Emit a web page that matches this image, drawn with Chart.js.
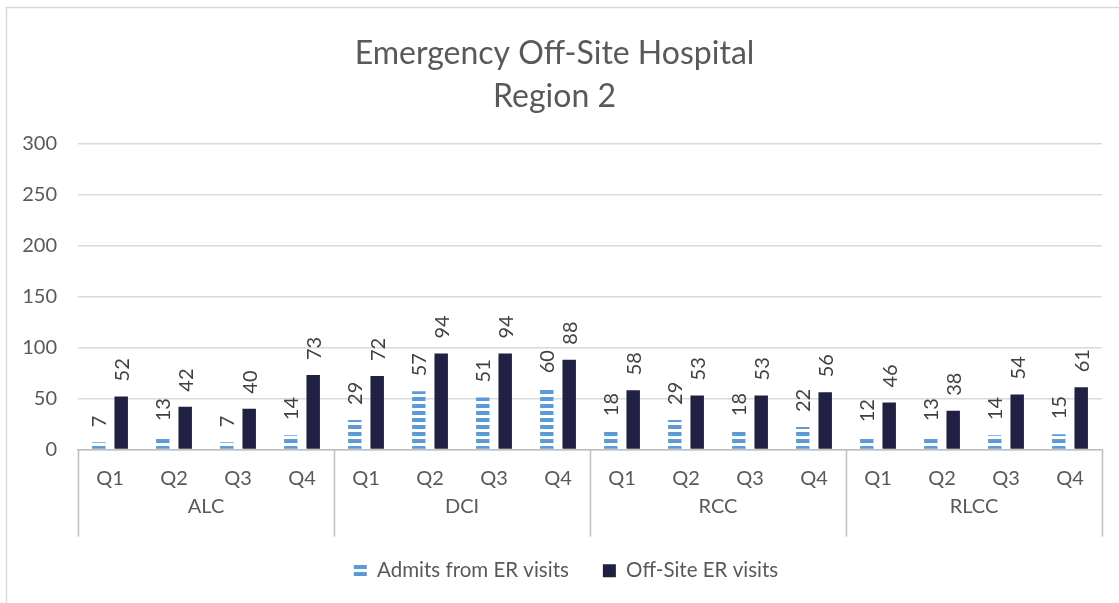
<!DOCTYPE html>
<html lang="en">
  <head>
    <meta charset="UTF-8" />
    <title>Emergency Off-Site Hospital Region 2</title>
    <script src="https://cdn.jsdelivr.net/npm/chart.js"></script>
    <style>
      html, body { margin: 0; padding: 0; background: #fff; }
      #wrap { width: 1119px; height: 603px; position: relative; }
    </style>
  </head>
  <body>
    <div id="wrap"><canvas id="chart" width="1119" height="603"></canvas></div>

    <script>
      // data
      const groups = ["ALC", "DCI", "RCC", "RLCC"];
      const quarters = ["Q1", "Q2", "Q3", "Q4"];
      const admits = [7, 13, 7, 14, 29, 57, 51, 60, 18, 29, 18, 22, 12, 13, 14, 15];
      const offsite = [52, 42, 40, 73, 72, 94, 94, 88, 58, 53, 53, 56, 46, 38, 54, 61];
      const yTicks = [0, 50, 100, 150, 200, 250, 300];

      const labels = [];
      groups.forEach(() => quarters.forEach(q => labels.push(q)));

      const grey = "#595959";
      const fontFam = "Lato, 'Open Sans', sans-serif";

      // horizontal stripe fill for the admits series
      function stripes() {
        const c = document.createElement("canvas");
        c.width = 8; c.height = 7;
        const g = c.getContext("2d");
        g.fillStyle = "#5B9BD5";
        g.fillRect(0, 0, 8, 2);
        g.fillRect(0, 5, 8, 2);
        return g.createPattern(c, "repeat");
      }

      // frame round the whole chart
      const frame = {
        id: "frame",
        beforeDraw(chart) {
          const ctx = chart.ctx;
          ctx.save();
          ctx.strokeStyle = "#d9d9d9";
          ctx.lineWidth = 1.5;
          ctx.strokeRect(6.5, 7.5, 1300, 800);
          ctx.restore();
        },
      };

      // legend sits a little right of centre in the original
      const legendShift = {
        id: "legendShift",
        afterLayout(chart) {
          chart.legend.left += 23;
        },
      };

      // rotated value labels above bars
      const valueLabels = {
        id: "valueLabels",
        afterDatasetsDraw(chart) {
          const ctx = chart.ctx;
          ctx.save();
          ctx.fillStyle = "#404040";
          ctx.font = "20px " + fontFam;
          ctx.textAlign = "left";
          ctx.textBaseline = "middle";
          chart.data.datasets.forEach((ds, i) => {
            chart.getDatasetMeta(i).data.forEach((el, j) => {
              ctx.save();
              ctx.translate(el.x, el.y - 15);
              ctx.rotate(-Math.PI / 2);
              ctx.fillText(String(ds.data[j]), 0, 1);
              ctx.restore();
            });
          });
          ctx.restore();
        },
      };

      // group names and separators under the quarter labels
      const groupAxis = {
        id: "groupAxis",
        afterDraw(chart) {
          const ctx = chart.ctx;
          const x = chart.scales.x;
          const top = x.top;
          const step = x.width / labels.length;
          ctx.save();
          ctx.strokeStyle = "#bfbfbf";
          ctx.lineWidth = 1.5;
          for (let g = 0; g <= groups.length; g++) {
            const px = Math.round(x.left + g * quarters.length * step) + 0.5;
            ctx.beginPath();
            ctx.moveTo(px, top);
            ctx.lineTo(px, top + 87);
            ctx.stroke();
          }
          ctx.fillStyle = grey;
          ctx.font = "20px " + fontFam;
          ctx.textAlign = "center";
          ctx.textBaseline = "middle";
          groups.forEach((name, g) => {
            const mid = (x.getPixelForValue(g * 4 + 1) + x.getPixelForValue(g * 4 + 2)) / 2;
            ctx.fillText(name, mid, top + 57);
          });
          ctx.restore();
        },
      };

      new Chart(document.getElementById("chart"), {
        type: "bar",
        data: {
          labels: labels,
          datasets: [
            {
              label: "Admits from ER visits",
              data: admits,
              backgroundColor: stripes(),
              borderWidth: 0,
              categoryPercentage: 0.7,
              barPercentage: 0.6,
            },
            {
              label: "Off-Site ER visits",
              data: offsite,
              backgroundColor: "#1f2042",
              borderWidth: 0,
              categoryPercentage: 0.7,
              barPercentage: 0.6,
            },
          ],
        },
        options: {
          responsive: false,
          animation: false,
          layout: { padding: { left: 7, right: 17, top: 7, bottom: 12 } },
          plugins: {
            title: {
              display: true,
              text: ["Emergency Off-Site Hospital", "Region 2"],
              color: grey,
              font: { family: fontFam, size: 32, weight: "normal", lineHeight: 1.35 },
              padding: { top: 25, bottom: 25 },
            },
            legend: {
              position: "bottom",
              labels: {
                color: grey,
                font: { family: fontFam, size: 20.5 },
                boxWidth: 13,
                boxHeight: 13,
                padding: 34,
              },
            },
            tooltip: { enabled: false },
          },
          scales: {
            x: {
              grid: { display: false, drawTicks: false },
              border: { display: true, color: "#bfbfbf", width: 1.5 },
              ticks: { color: grey, font: { family: fontFam, size: 20 }, padding: 17, maxRotation: 0 },
              afterFit: s => { s.height = 77; },
            },
            y: {
              min: 0,
              max: 300,
              afterBuildTicks: s => { s.ticks = yTicks.map(v => ({ value: v })); },
              grid: { color: "#d9d9d9", lineWidth: 1.5, drawTicks: false },
              border: { display: false },
              ticks: { color: grey, font: { family: fontFam, size: 20 }, padding: 21 },
              afterFit: s => { s.width = 71; },
            },
          },
        },
        plugins: [frame, legendShift, valueLabels, groupAxis],
      });
    </script>
  </body>
</html>
